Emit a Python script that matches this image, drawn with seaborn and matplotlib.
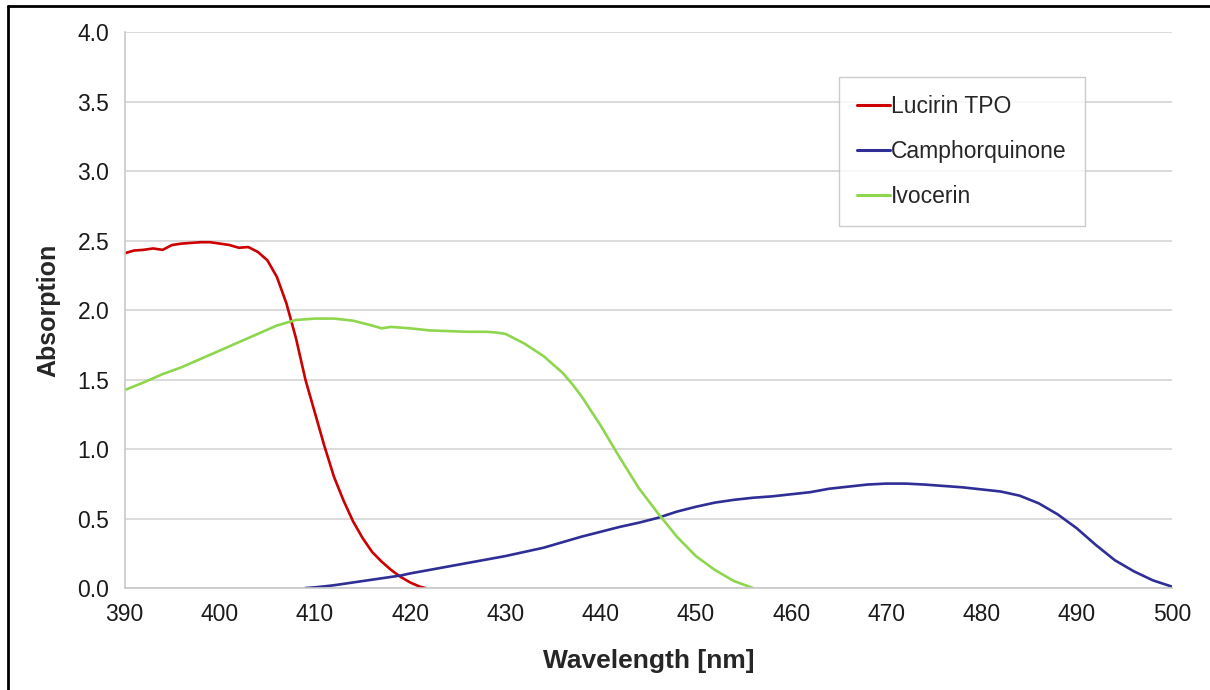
import numpy as np
import pandas as pd
import matplotlib
matplotlib.use("Agg")
import matplotlib.pyplot as plt
from matplotlib.lines import Line2D
import seaborn as sns

# ---- data ----
tpo_x = [390, 391, 392, 393, 394, 395, 396, 397, 398, 399, 400, 401, 402, 403, 404, 405,
         406, 407, 408, 409, 410, 411, 412, 413, 414, 415, 416, 417, 418, 419, 420, 421, 421.6]
tpo_y = [2.41, 2.43, 2.435, 2.445, 2.435, 2.47, 2.48, 2.485, 2.49, 2.49, 2.48, 2.47, 2.45, 2.455,
         2.42, 2.36, 2.24, 2.05, 1.80, 1.50, 1.26, 1.02, 0.80, 0.63, 0.48, 0.36, 0.26, 0.19,
         0.13, 0.08, 0.04, 0.01, 0.0]

cq_x = [409, 410, 411, 412, 413, 414, 415, 416, 417, 418, 419, 420, 422, 424, 426, 428, 430,
        432, 434, 436, 438, 440, 442, 444, 446, 448, 450, 452, 454, 456, 458, 460, 462, 464,
        466, 468, 470, 472, 474, 476, 478, 480, 482, 484, 486, 488, 490, 492, 494, 496, 498, 500]
cq_y = [0.0, 0.005, 0.012, 0.02, 0.03, 0.04, 0.05, 0.06, 0.07, 0.08, 0.09, 0.105, 0.13, 0.155,
        0.18, 0.205, 0.23, 0.26, 0.29, 0.33, 0.37, 0.405, 0.44, 0.47, 0.505, 0.55, 0.585, 0.615,
        0.635, 0.65, 0.66, 0.675, 0.69, 0.715, 0.73, 0.745, 0.752, 0.752, 0.745, 0.735, 0.725,
        0.71, 0.695, 0.665, 0.61, 0.53, 0.43, 0.31, 0.20, 0.12, 0.055, 0.01]

ivo_x = [390, 392, 394, 396, 398, 400, 402, 404, 406, 408, 410, 412, 414, 416, 417, 418, 419,
         420, 422, 424, 426, 428, 429, 430, 432, 434, 436, 437, 438, 440, 442, 444, 446, 448,
         450, 452, 454, 456]
ivo_y = [1.425, 1.48, 1.54, 1.59, 1.65, 1.71, 1.77, 1.83, 1.89, 1.93, 1.94, 1.94, 1.925, 1.89,
         1.87, 1.88, 1.875, 1.87, 1.855, 1.85, 1.845, 1.845, 1.84, 1.83, 1.76, 1.67, 1.55, 1.47,
         1.38, 1.17, 0.94, 0.72, 0.54, 0.37, 0.23, 0.13, 0.05, 0.0]

series_names = ["Lucirin TPO", "Camphorquinone", "Ivocerin"]
series_colors = ["#cc0000", "#2e2e96", "#8ed64e"]

x_ticks = [390, 400, 410, 420, 430, 440, 450, 460, 470, 480, 490, 500]
y_ticks = [0.0, 0.5, 1.0, 1.5, 2.0, 2.5, 3.0, 3.5, 4.0]

df = pd.concat([
    pd.DataFrame({"x": tpo_x, "y": tpo_y, "s": series_names[0]}),
    pd.DataFrame({"x": cq_x, "y": cq_y, "s": series_names[1]}),
    pd.DataFrame({"x": ivo_x, "y": ivo_y, "s": series_names[2]}),
], ignore_index=True)

# ---- style ----
sns.set_style("white")
plt.rcParams["font.family"] = ["Liberation Sans", "DejaVu Sans"]

fig = plt.figure(figsize=(12.1, 6.9), dpi=100)
ax = fig.add_axes([0.1029, 0.1478, 0.8657, 0.8051])

sns.lineplot(data=df, x="x", y="y", hue="s", hue_order=series_names,
             palette=dict(zip(series_names, series_colors)),
             linewidth=1.9, ax=ax, sort=False, estimator=None)

ax.set_xlim(390, 500)
ax.set_ylim(0, 4.0)
ax.set_xticks(x_ticks)
ax.set_xticklabels([str(t) for t in x_ticks])
ax.set_yticks(y_ticks)
ax.set_yticklabels([f"{t:.1f}" for t in y_ticks])
ax.yaxis.grid(True, color="#d4d4d4", linewidth=1.2)
ax.xaxis.grid(False)
ax.set_axisbelow(True)

for side in ["top", "right"]:
    ax.spines[side].set_visible(False)
for side in ["left", "bottom"]:
    ax.spines[side].set_color("#c8c8c8")
    ax.spines[side].set_linewidth(1.2)

ax.tick_params(axis="both", which="major", direction="out", length=6, width=1.0,
               color="#c8c8c8", labelsize=16.5, labelcolor="#1a1a1a")
ax.tick_params(axis="x", pad=5)
ax.tick_params(axis="y", pad=5)

ax.set_xlabel("Wavelength [nm]", fontsize=19, fontweight="bold", labelpad=16)
ax.set_ylabel("Absorption", fontsize=18, fontweight="bold", labelpad=12)

leg = ax.legend(loc="upper left", bbox_to_anchor=(0.6817, 0.9199), frameon=True,
                fancybox=False, fontsize=16.5, handlelength=1.45, handletextpad=0.05,
                labelspacing=0.95, borderpad=0.8, borderaxespad=0.0)
leg.get_frame().set_edgecolor("#c0c0c0")
leg.get_frame().set_linewidth(1.0)
for h in leg.get_lines():
    h.set_linewidth(2.2)

# outer frame (top and left edges)
fig.add_artist(Line2D([0.0066, 1.0], [0.9913, 0.9913], transform=fig.transFigure,
                      color="black", linewidth=2.0))
fig.add_artist(Line2D([0.0066, 0.0066], [0.0, 0.9913], transform=fig.transFigure,
                      color="black", linewidth=2.0))

fig.savefig("out.png", dpi=100)
